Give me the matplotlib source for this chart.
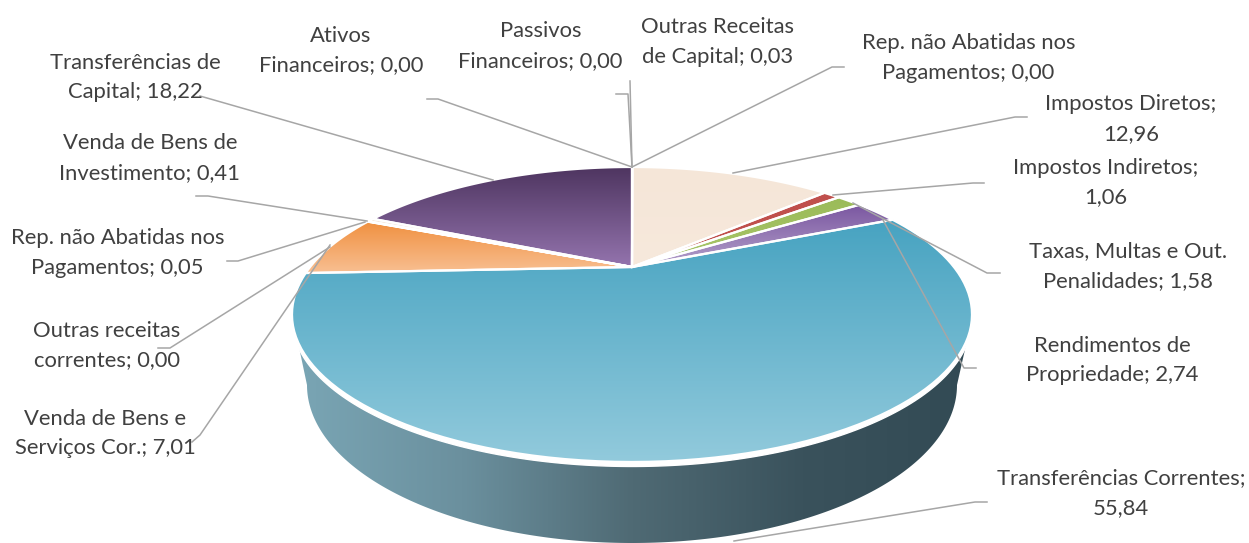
import numpy as np
import matplotlib
matplotlib.use('Agg')
import matplotlib.pyplot as plt
from matplotlib.colors import LinearSegmentedColormap
from matplotlib.patches import Polygon

plt.rcParams.update({'font.family': 'Lato', 'font.size': 15.8})

# clockwise from 12 o'clock
names = ['Outras Receitas\nde Capital', 'Rep. não Abatidas nos\nPagamentos', 'Impostos Diretos;\n', 'Impostos Indiretos;\n',
         'Taxas, Multas e Out.\nPenalidades', 'Rendimentos de\nPropriedade', 'Transferências Correntes;\n',
         'Venda de Bens e\nServiços Cor.', 'Outras receitas\ncorrentes', 'Rep. não Abatidas nos\nPagamentos',
         'Venda de Bens de\nInvestimento', 'Transferências de\nCapital', 'Ativos\nFinanceiros', 'Passivos\nFinanceiros']
values = [0.03, 0.00, 12.96, 1.06, 1.58, 2.74, 55.84, 7.01, 0.00, 0.05, 0.41, 18.22, 0.00, 0.00]
top_cols = ['#f5e6d8', '#f5e6d8', '#f5e6d8', '#c0504d', '#9bbb59', '#7a56a0', '#47a3c1',
            '#f0903f', '#f8c090', '#f8c090', '#f5e6d8', '#4e3560', '#4e3560', '#4e3560']
bot_cols = ['#f7e9dc', '#f7e9dc', '#f7e9dc', '#c0504d', '#a9c66b', '#b3a0cb', '#92cadc',
            '#f8bf92', '#f8c090', '#f8c090', '#f5e6d8', '#9474ae', '#9474ae', '#9474ae']
# label centre (x, y of block middle) and leader path, in pixels
label_pos = [(717.5, 42), (968.5, 58), (1131, 119), (1106, 182.5), (1128, 266), (1112, 360.5), (1121, 493),
             (105, 433.5), (107, 345.5), (117.5, 253), (150, 158), (135.5, 77.5), (341, 50.5), (540.5, 46)]
leaders = [[(632, 167), (630, 81)], [(632, 167), (832, 67), (844, 67)], [(733, 173), (1015, 117), (1027, 117)],
           [(833, 195), (973, 183), (984, 183)], [(853, 203), (987, 273), (1000, 273)],
           [(883, 220), (964, 368), (976, 368)], [(734, 541), (975, 502), (987, 502)],
           [(330, 245), (200, 435), (192, 442)], [(330, 247), (170, 348), (158, 348)],
           [(365, 222), (238, 261), (227, 261)], [(367, 221), (208, 196), (196, 196)],
           [(493, 180), (200, 96)], [(632, 167), (438, 99), (427, 99)], [(632, 167), (628, 94), (616, 94)]]

cx, cy = 632, 267
a, b, k = 321.9, 132.2, 0.322


def project(theta):
    # tilted disc: theta runs clockwise from the back of the pie
    x, y = np.sin(theta), np.cos(theta)
    w = 1 + k * y
    return cx + a * x / w, cy - b * y / w


def gradient(ax, patch, xy, c0, c1):
    cmap = LinearSegmentedColormap.from_list('g', [c0, c1])
    ext = (xy[:, 0].min(), xy[:, 0].max(), xy[:, 1].max(), xy[:, 1].min())
    im = ax.imshow(np.linspace(0, 1, 256).reshape(-1, 1), extent=ext, cmap=cmap, aspect='auto', zorder=patch.get_zorder())
    ax.add_patch(patch)
    im.set_clip_path(patch)


fig = plt.figure(figsize=(12.49, 5.43), dpi=100)
ax = fig.add_axes([0, 0, 1, 1])

# side wall
t = np.linspace(-np.pi / 2, np.pi / 2, 200)
wall = np.column_stack([632 + 325 * np.sin(t), 385 + 158 * np.cos(t)])
wall = np.vstack([[292, 314], wall, [973, 314]])
cm = LinearSegmentedColormap.from_list('side', ['#7aa6b5', '#6b909e', '#4f6a74', '#3a525c', '#324a54'])
im = ax.imshow(np.linspace(0, 1, 256).reshape(1, -1), extent=(292, 973, 545, 300), cmap=cm, aspect='auto', zorder=1)
p = Polygon(wall, closed=True, fc='none', ec='none', zorder=1)
ax.add_patch(p)
im.set_clip_path(p)

# white rim between top and wall
th = np.linspace(0, 2 * np.pi, 400)
rx, ry = project(th)
ax.fill(rx, ry + 4.5, color='white', zorder=2)

# top slices
edges = np.cumsum([0] + values) / np.sum(values) * 2 * np.pi
for i, v in enumerate(values):
    if v == 0:
        continue
    th = np.linspace(edges[i], edges[i + 1], 100)
    px, py = project(th)
    xy = np.column_stack([np.r_[cx, px], np.r_[cy, py]])
    gradient(ax, Polygon(xy, closed=True, fc='none', ec='none', zorder=3), xy, top_cols[i], bot_cols[i])
    ax.add_patch(Polygon(xy, closed=True, fc='none', ec='white', lw=1.6, joinstyle='miter', zorder=4))

for path in leaders:
    pts = np.array(path)
    ax.plot(pts[:, 0], pts[:, 1], color='#a6a6a6', lw=1.1, zorder=5)

for i, name in enumerate(names):
    val = f'{values[i]:.2f}'.replace('.', ',')
    txt = name + val if name.endswith('\n') else f'{name}; {val}'
    ax.text(label_pos[i][0], label_pos[i][1], txt, ha='center', va='center', color='#404040',
            linespacing=1.62, zorder=6)

ax.set_xlim(0, 1249)
ax.set_ylim(543, 0)
ax.axis('off')
fig.savefig('out.png', dpi=100)
